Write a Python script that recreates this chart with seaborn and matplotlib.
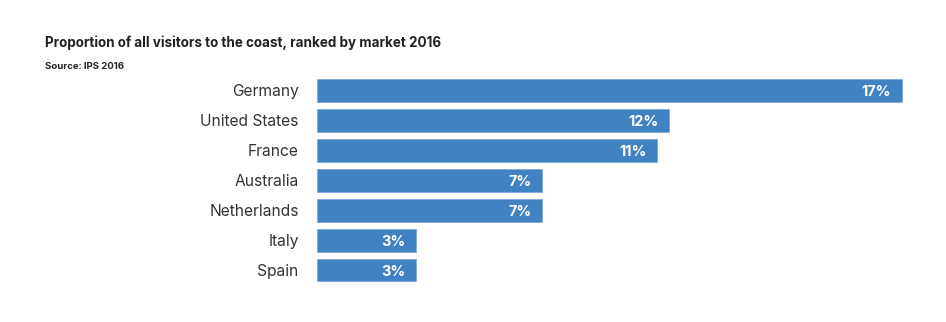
import matplotlib
matplotlib.use("Agg")
import matplotlib.pyplot as plt
import seaborn as sns
import pandas as pd

countries = ["Germany", "United States", "France", "Australia", "Netherlands", "Italy", "Spain"]
values = [17.0, 10.25, 9.9, 6.56, 6.56, 2.89, 2.89]
value_labels = ["17%", "12%", "11%", "7%", "7%", "3%", "3%"]

title = "Proportion of all visitors to the coast, ranked by market 2016"
source = "Source: IPS 2016"

sns.set_theme(style="white")
plt.rcParams["font.family"] = ["Inter", "DejaVu Sans"]

W, H = 946, 322
fig = plt.figure(figsize=(W / 100, H / 100), dpi=100)
left_px, right_px = 316.7, 316.7 + 17.5 * 34.41
top_px, bot_px = 75.4, 285.1
ax = fig.add_axes([left_px / W, 1 - bot_px / H, (right_px - left_px) / W, (bot_px - top_px) / H])

df = pd.DataFrame({"country": countries, "value": values})
sns.barplot(data=df, x="value", y="country", orient="h", color="#4182C3",
            saturation=1, width=0.757, ax=ax, edgecolor="#7FA9D6", linewidth=0.6)

ax.set_xlim(0, 17.5)
ax.set_ylim(6.5, -0.5)
ax.set_xlabel("")
ax.set_ylabel("")
ax.set_xticks([])
ax.tick_params(axis="y", length=0, pad=13)
for lab in ax.get_yticklabels():
    lab.set_fontsize(11.2)
    lab.set_color("#333333")
for s in ax.spines.values():
    s.set_visible(False)

for i, (v, t) in enumerate(zip(values, value_labels)):
    ax.annotate(t, xy=(v, i), xytext=(-8, -1.3), textcoords="offset points",
                ha="right", va="center", color="white", fontsize=10.5, fontweight="bold")

fig.text(45 / W, 1 - 43 / H, title, ha="left", va="center", fontsize=9.7, fontweight="bold", color="#222222")
fig.text(45 / W, 1 - 66 / H, source, ha="left", va="center", fontsize=6.9, fontweight="bold", color="#222222")

fig.savefig("out.png", dpi=100, facecolor="white")
